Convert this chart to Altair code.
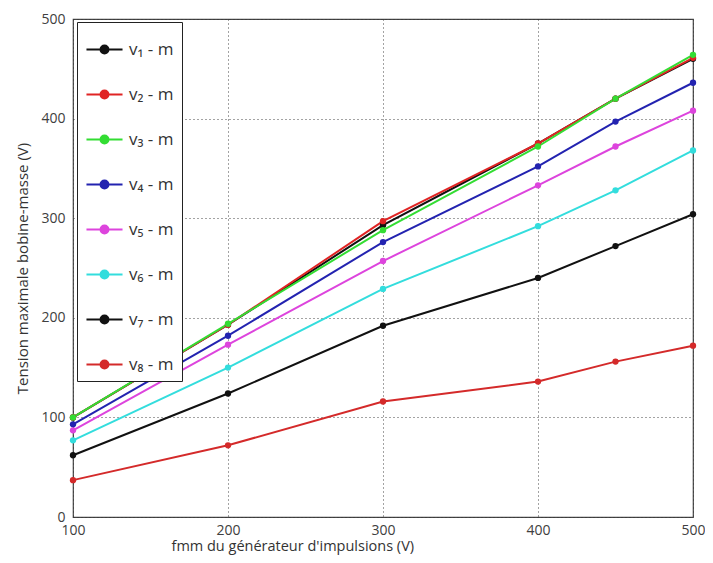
import altair as alt
import pandas as pd

x_vals = [100, 200, 300, 400, 450, 500]
series = ["v₁ - m", "v₂ - m", "v₃ - m", "v₄ - m", "v₅ - m", "v₆ - m", "v₇ - m", "v₈ - m"]
v1 = [100, 193, 293, 375, 420, 460]
v2 = [100, 193, 297, 375, 420, 461]
v3 = [100, 194, 288, 372, 420, 464]
v4 = [93, 182, 276, 352, 397, 436]
v5 = [87, 173, 257, 333, 372, 408]
v6 = [77, 150, 229, 292, 328, 368]
v7 = [62, 124, 192, 240, 272, 304]
v8 = [37, 72, 116, 136, 156, 172]
colors = ["#111111", "#e02424", "#33dd33", "#2323b0", "#dd44dd", "#33dddd", "#111111", "#d42a2a"]

all_vals = [v1, v2, v3, v4, v5, v6, v7, v8]
rows = []
for name, vals in zip(series, all_vals):
    for xv, yv in zip(x_vals, vals):
        rows.append({"x": xv, "y": yv, "s": name})
df = pd.DataFrame(rows)

FONT = "Open Sans"

legend = alt.Legend(
    title=None, orient="none", legendX=4, legendY=3,
    symbolType="M-1,0L-0.22,0M0.22,0L1,0M-0.22,0A0.22,0.22,0,1,0,0.22,0A0.22,0.22,0,1,0,-0.22,0",
    symbolSize=1300, symbolStrokeWidth=2, labelFontSize=17, labelFont=FONT,
    labelColor="#333333", rowPadding=17, padding=8,
    strokeColor="#222222", fillColor="white", labelOffset=5,
)

color = alt.Color("s:N", scale=alt.Scale(domain=series, range=colors), sort=series, legend=legend)

xax = alt.X("x:Q", scale=alt.Scale(domain=[100, 500], nice=False),
            axis=alt.Axis(values=[100, 200, 300, 400, 500], title="fmm du générateur d'impulsions (V)",
                          grid=True, gridDash=[1, 3], gridColor="#333333", gridOpacity=0.9,
                          ticks=False, labelPadding=6, labelFontSize=14, titleFontSize=14.5,
                          labelFont=FONT, titleFont=FONT, labelColor="#404040", titleColor="#333333",
                          titleFontWeight="normal", titleX=98, titleY=22, titleAlign="left",
                          titleBaseline="top", domain=False, labelFlush=False))
yax = alt.Y("y:Q", scale=alt.Scale(domain=[0, 500], nice=False),
            axis=alt.Axis(values=[0, 100, 200, 300, 400, 500], title="Tension maximale bobine-masse (V)",
                          grid=True, gridDash=[1, 3], gridColor="#333333", gridOpacity=0.9,
                          ticks=False, labelPadding=8, labelFontSize=14, titleFontSize=15,
                          labelFont=FONT, titleFont=FONT, labelColor="#404040", titleColor="#333333",
                          titleFontWeight="normal", titlePadding=10, domain=False, labelFlush=False))

base = alt.Chart(df)
lines = base.mark_line(strokeWidth=2).encode(x=xax, y=yax, color=color, order=alt.Order("x:Q"))
pts = base.mark_point(filled=True, size=40, opacity=1).encode(x="x:Q", y="y:Q", color=color)

chart = alt.layer(lines, pts).properties(
    width=620, height=498,
    autosize=alt.AutoSizeParams(type="none"),
    padding={"left": 65, "top": 11, "right": 12, "bottom": 38},
).configure_view(stroke="#444444", strokeWidth=1.2)

chart.save("out.html", embed_options={"renderer": "svg", "actions": False})
